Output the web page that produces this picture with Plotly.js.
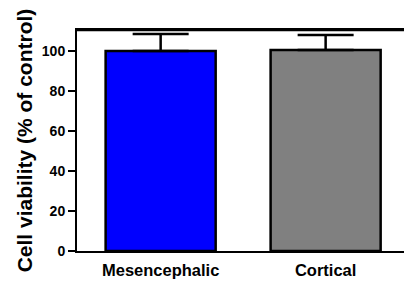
<!DOCTYPE html>
<html><head><meta charset="utf-8">
<script src="https://cdn.plot.ly/plotly-3.0.1.min.js"></script>
<style>html,body{margin:0;padding:0;background:#fff;}#c{width:404px;height:281px;}</style>
</head><body><div id="c"></div>
<script>
const categories = ["Mesencephalic", "Cortical"];
const viability = [100, 100.5];
const sem = [8.5, 7.5];
const barColors = ["#0000ff", "#808080"];
const yTicks = [0, 20, 40, 60, 80, 100];

const FONT = "Liberation Sans, Arial, sans-serif";
const trace = {
  type: "bar",
  x: [0, 1],
  y: viability,
  width: 0.667,
  marker: {color: barColors, line: {color: "#000", width: 2.5}},
  error_y: {type: "data", array: sem, visible: true, color: "#000", thickness: 2.5, width: 28, symmetric: false, arrayminus: [0, 0]},
  hoverinfo: "none"
};
const layout = {
  width: 404, height: 281,
  margin: {l: 77, r: 0, t: 30, b: 30},
  paper_bgcolor: "#fff", plot_bgcolor: "#fff",
  showlegend: false,
  font: {family: FONT, color: "#000"},
  xaxis: {
    range: [-0.507, 1.475],
    tickvals: [0, 1], ticktext: categories,
    ticks: "outside", ticklen: 3, tickcolor: "rgba(0,0,0,0)",
    showgrid: false, zeroline: false,
    showline: true, linecolor: "#000", linewidth: 2, mirror: true,
    tickfont: {size: 16.5, family: FONT, weight: "bold"}
  },
  yaxis: {
    range: [0, 110.5],
    tickvals: yTicks, ticktext: yTicks.map(String),
    ticks: "outside", ticklen: 7, tickwidth: 2, tickcolor: "#000",
    showgrid: false, zeroline: false,
    showline: true, linecolor: "#000", linewidth: 2,
    tickfont: {size: 14, family: FONT, weight: "bold"},
    title: {text: "<b>Cell viability (% of control)</b>", font: {size: 21, family: FONT}, standoff: 3}
  },
  shapes: [{type: "line", xref: "paper", yref: "paper", x0: 0, x1: 1, y0: 1, y1: 1, layer: "above", line: {color: "#000", width: 2.5}}]
};
Plotly.newPlot("c", [trace], layout, {staticPlot: true, displayModeBar: false});
</script>
</body></html>
